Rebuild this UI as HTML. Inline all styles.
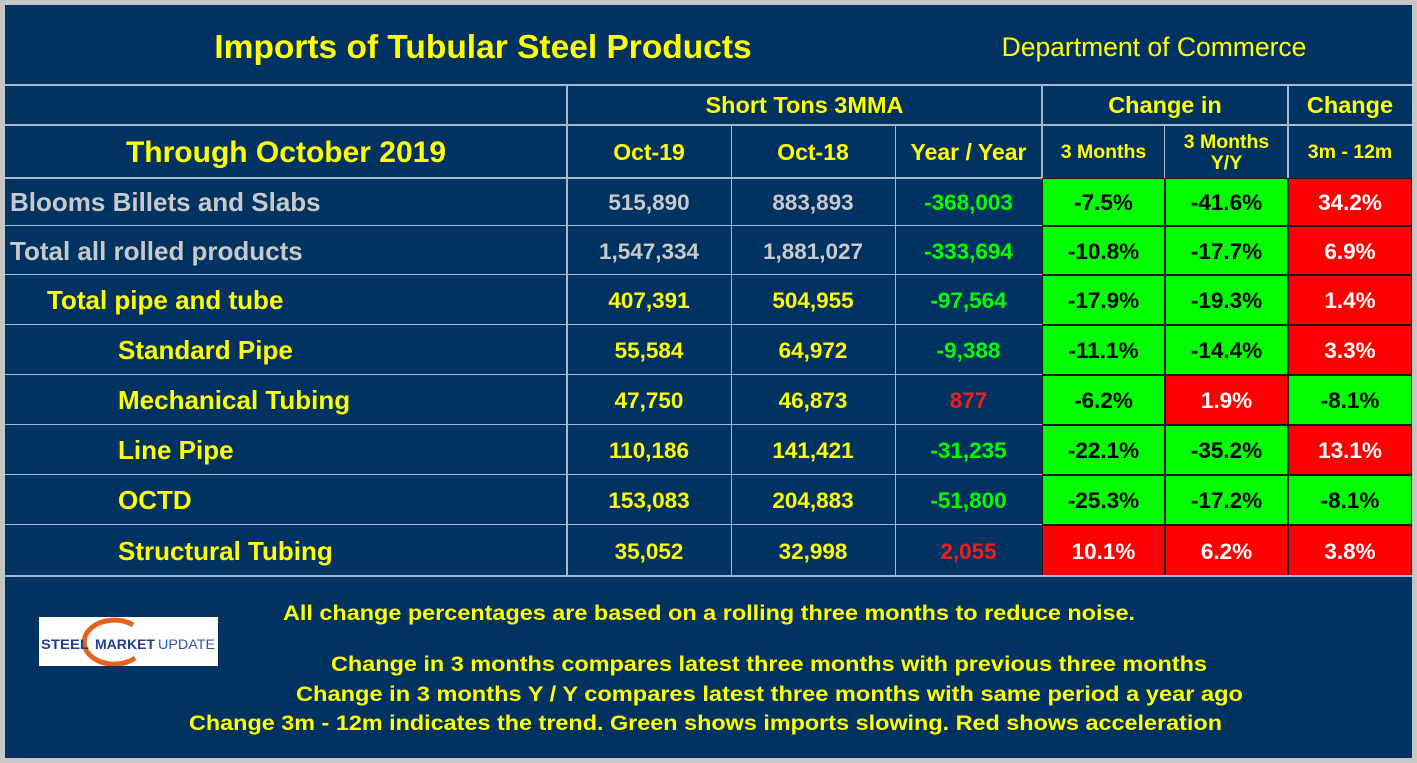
<!DOCTYPE html>
<html><head><meta charset="utf-8">
<style>
html,body{margin:0;padding:0;}
body{width:1417px;height:763px;background:#c6c6c6;position:relative;overflow:hidden;font-family:"Liberation Sans",Arial,sans-serif;font-weight:bold;}
#panel{position:absolute;left:5px;top:5px;width:1407px;height:753px;background:#003262;}
.c{position:absolute;box-sizing:border-box;display:flex;align-items:center;justify-content:center;text-align:center;line-height:1.05;white-space:nowrap;}
.hl{position:absolute;background:#a9b6cc;}
.y{color:#ffff00}
.g{color:#c9c9c9}
</style></head>
<body>
<div id="panel"></div>
<div class="c y" style="left:150px;top:25px;width:666px;height:45px;font-size:33.5px;">Imports of Tubular Steel Products</div>
<div class="c" style="left:950px;top:25px;width:408px;height:45px;font-size:26.5px;font-weight:normal;color:#ffff00;">Department of Commerce</div>
<div class="c" style="left:39px;top:617px;width:179px;height:49px;background:#fff;justify-content:flex-start;">
<svg width="179" height="49"><path d="M94 8 A30 22 0 1 0 96 41" fill="none" stroke="#e8601c" stroke-width="5"/><text x="2" y="32" font-size="14" font-weight="bold" fill="#1f3f8a" font-family="Liberation Sans,sans-serif" textLength="48" lengthAdjust="spacingAndGlyphs">STEEL</text><text x="56" y="32" font-size="14" font-weight="bold" fill="#1f3f8a" font-family="Liberation Sans,sans-serif" textLength="60" lengthAdjust="spacingAndGlyphs">MARKET</text><text x="119" y="32" font-size="14" font-weight="normal" fill="#2a58a8" font-family="Liberation Sans,sans-serif" textLength="57" lengthAdjust="spacingAndGlyphs">UPDATE</text></svg></div>
<svg style="position:absolute;left:0;top:0" width="1417" height="763">
<g fill="#ffff00" font-family="Liberation Sans,sans-serif" font-weight="bold" font-size="21">
<text x="283" y="620" textLength="852" lengthAdjust="spacingAndGlyphs">All change percentages are based on a rolling three months to reduce noise.</text>
<text x="331" y="671" textLength="876" lengthAdjust="spacingAndGlyphs">Change in 3 months compares latest three months with previous three months</text>
<text x="296" y="701" textLength="947" lengthAdjust="spacingAndGlyphs">Change in 3 months  Y / Y compares latest three months with same period a year ago</text>
<text x="189" y="730" textLength="1033" lengthAdjust="spacingAndGlyphs">Change 3m - 12m indicates the trend. Green shows imports slowing. Red shows acceleration</text>
</g></svg>
<script>
const labels=["Blooms Billets and Slabs","Total all rolled products","Total pipe and tube","Standard Pipe","Mechanical Tubing","Line Pipe","OCTD","Structural Tubing"];
const indents=[0,0,1,2,2,2,2,2];
const oct19=["515,890","1,547,334","407,391","55,584","47,750","110,186","153,083","35,052"];
const oct18=["883,893","1,881,027","504,955","64,972","46,873","141,421","204,883","32,998"];
const yoy=["-368,003","-333,694","-97,564","-9,388","877","-31,235","-51,800","2,055"];
const ch3=["-7.5%","-10.8%","-17.9%","-11.1%","-6.2%","-22.1%","-25.3%","10.1%"];
const ch3yy=["-41.6%","-17.7%","-19.3%","-14.4%","1.9%","-35.2%","-17.2%","6.2%"];
const ch312=["34.2%","6.9%","1.4%","3.3%","-8.1%","13.1%","-8.1%","3.8%"];
const colX=[5,567,731,895,1042,1165,1288,1412];
const rowY=[178,226,275,325,375,425,475,525,576];
const body=document.body;
function cell(x,y,w,h,txt,cls,fs,name,extra){
  const d=document.createElement('div');
  d.className='c '+(cls||'');
  d.style.cssText=`left:${x}px;top:${y}px;width:${w}px;height:${h}px;font-size:${fs}px;`+(extra||'');
  d.innerHTML=txt;
  
  
  body.appendChild(d);return d;
}
function line(x,y,w,h,name){
  const d=document.createElement('div');d.className='hl';
  d.style.cssText=`left:${x}px;top:${y}px;width:${w}px;height:${h}px;`;
  
  
  body.appendChild(d);
}
cell(567,85,475,40,'Short Tons 3MMA','y',23.5,'header-short-tons');
cell(1042,85,246,40,'Change in','y',23.5,'header-change-in');
cell(1288,85,124,40,'Change','y',23.5,'header-change');
cell(5,125,562,55,'Through October 2019','y',30,'header-through');
cell(567,125,164,55,'Oct-19','y',23,'header-oct19');
cell(731,125,164,55,'Oct-18','y',23,'header-oct18');
cell(895,125,147,55,'Year / Year','y',23,'header-yoy');
cell(1042,125,123,55,'3 Months','y',19.5,'header-3m');
cell(1165,125,123,55,'3 Months<br>Y/Y','y',19.5,'header-3myy');
cell(1288,125,124,55,'3m - 12m','y',19.5,'header-3m12m');
for(let i=0;i<labels.length;i++){
  const y=rowY[i],h=rowY[i+1]-rowY[i];
  const tc=i<2?'g':'y';
  const pad=[5,42,113][indents[i]];
  cell(5,y+1,562,h,labels[i],tc,26,'row-label-'+i,`justify-content:flex-start;padding-left:${pad}px;`);
  cell(567,y+1,164,h,oct19[i],tc,22.5,'oct19-'+i);
  cell(731,y+1,164,h,oct18[i],tc,22.5,'oct18-'+i);
  const neg=yoy[i].startsWith('-');
  cell(895,y+1,147,h,yoy[i],'',22.5,'yoy-'+i,'color:'+(neg?'#00ff00':'#ff1a1a'));
  [[ch3,1042,123,'ch3'],[ch3yy,1165,123,'ch3yy'],[ch312,1288,124,'ch312']].forEach(([arr,x,w,n])=>{
    const v=arr[i],ng=v.startsWith('-');
    cell(x,y,w,h,v,'',22.5,n+'-'+i,`background:${ng?'#00ff00':'#ff0000'};color:${ng?'#000':'#fff'};border:0.5px solid #1a1a1a;padding-top:2px;`);
  });
}
line(5,84,1407,2,'grid-top');
line(5,124,1037,2,'grid-h-1');line(1042,124,370,2,'grid-h-1b');
line(5,177,1037,2,'grid-h-2');
for(let i=1;i<rowY.length;i++) line(5,rowY[i]-1,1037,1,'grid-row-'+i);
line(5,575,1407,2,'grid-bottom');
line(566,85,2,491,'grid-v-1');
[731,895].forEach(x=>line(x,125,1,451,'grid-v-'+x));
line(1041,85,2,93,'grid-v-1042');
line(1164,125,1,53,'grid-v-1165');
line(1287,85,2,93,'grid-v-1288');
</script>
</body></html>
